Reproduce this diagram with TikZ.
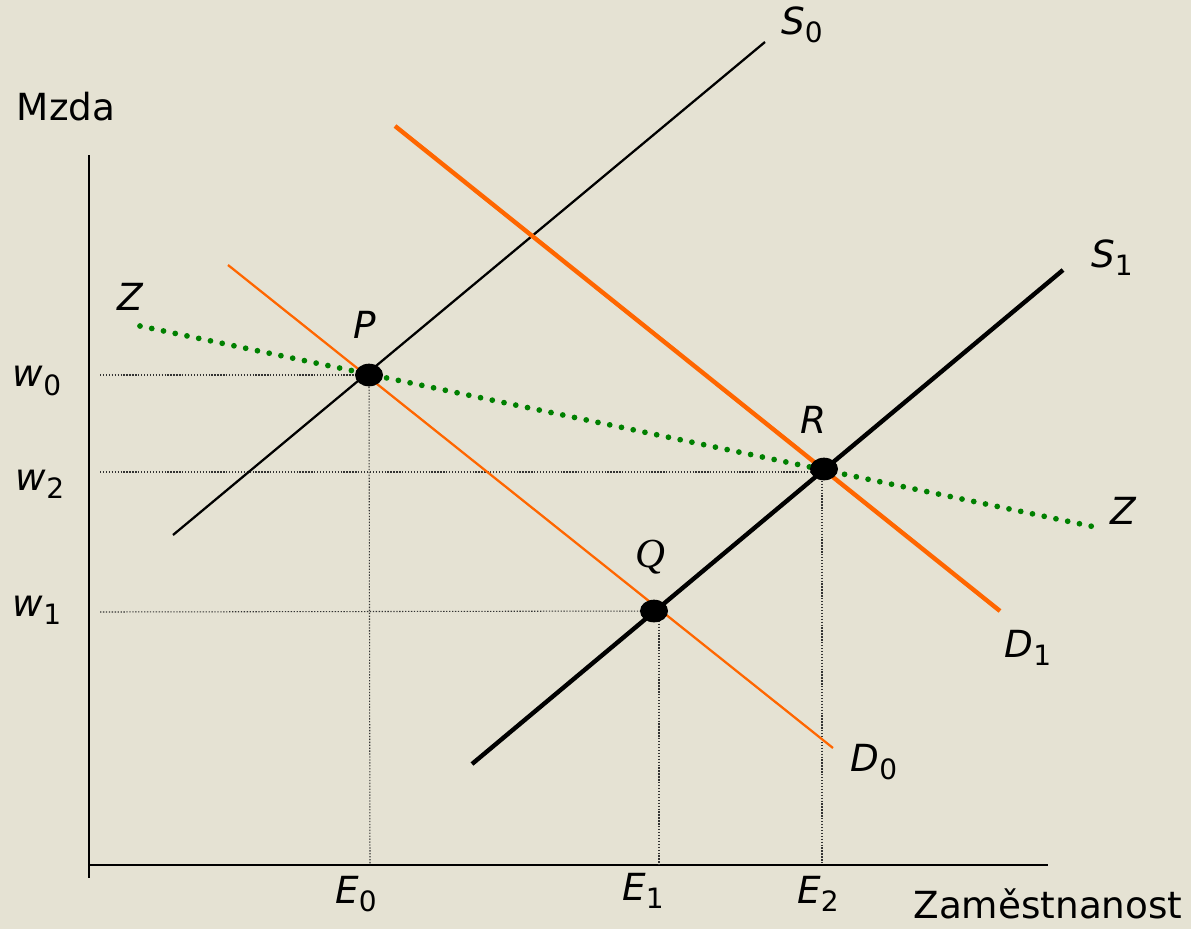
\documentclass[tikz,border=0pt]{standalone}
\usepackage{fontspec}
\setmainfont{DejaVu Sans}
\newfontfamily\qfont{Liberation Serif}
\usetikzlibrary{shapes.geometric}
\definecolor{bg}{RGB}{229,226,211}
\definecolor{orng}{RGB}{255,102,0}
\definecolor{grn}{RGB}{0,128,0}
\newcommand\lab[2]{\textit{#1}\raisebox{-0.4ex}{\fontsize{21}{21}\selectfont #2}}
\tikzset{
  lbl/.style={font=\fontsize{28}{30}\selectfont, inner sep=0pt},
  dotnode/.style={ellipse, fill=black, minimum width=21pt, minimum height=17pt, inner sep=0pt},
  guide/.style={line width=0.8pt, dash pattern=on 1pt off 1.2pt, black!80},
  axis/.style={line width=2pt},
  thinline/.style={line width=1.7pt},
  thickline/.style={line width=3.3pt},
  zline/.style={grn, line width=4.3pt, line cap=round, dash pattern=on 0pt off 9pt}
}
\begin{document}
\begin{tikzpicture}[x=0.75pt,y=-0.75pt]
\fill[bg] (0,0) rectangle (1191,929);
\useasboundingbox (0,0) rectangle (1191,929);
% axes
\coordinate (ytop) at (89,155);
\coordinate (ybot) at (89,878);
\coordinate (xl) at (89,865);
\coordinate (xr) at (1048,865);
\draw[axis] (ytop) -- (ybot);
\draw[axis] (xl) -- (xr);
% points
\coordinate (Pc) at (369,375);
\coordinate (Rc) at (824,469);
\coordinate (Qc) at (654,611);
% guides
\coordinate (g0) at (100,375);
\coordinate (g2) at (100,472);
\coordinate (g1) at (100,612);
\coordinate (e0) at (370,865);
\coordinate (e1) at (659,865);
\coordinate (e2) at (822,865);
\coordinate (r2) at (822,472);
\coordinate (q1) at (659,612);
\draw[guide] (g0) -- (Pc);
\draw[guide] (Pc) -- (e0);
\draw[guide] (g2) -- (r2);
\draw[guide] (r2) -- (e2);
\draw[guide] (g1) -- (Qc);
\draw[guide] (q1) -- (e1);
% curves
\coordinate (s0a) at (173,535);
\coordinate (s0b) at (765,42);
\coordinate (s1a) at (472,764);
\coordinate (s1b) at (1063,270);
\coordinate (d0a) at (228,265);
\coordinate (d0b) at (833,748);
\coordinate (d1a) at (395,126);
\coordinate (d1b) at (1000,611);
\coordinate (za) at (140,326);
\coordinate (zb) at (1095,527);
\draw[thinline] (s0a) -- (s0b);
\draw[orng, thinline] (d0a) -- (d0b);
\draw[orng, thickline] (d1a) -- (d1b);
\draw[thickline] (s1a) -- (s1b);
\draw[zline] (za) -- (zb);
% dots
\node[dotnode] (P) at (Pc) {};
\node[dotnode] (R) at (Rc) {};
\node[dotnode] (Q) at (Qc) {};
% labels
\node[lbl] (lS0) at (802,25) {\lab{S}{0}};
\node[lbl] (lS1) at (1112,258) {\lab{S}{1}};
\node[lbl] (lD1) at (1028,648) {\lab{D}{1}};
\node[lbl] (lD0) at (874,762) {\lab{D}{0}};
\node[lbl] (lZa) at (131,297) {\textit{Z}};
\node[lbl] (lZb) at (1124,511) {\textit{Z}};
\node[lbl] (lP) at (365,325) {\textit{P}};
\node[lbl] (lR) at (813,420) {\textit{R}};
\node[lbl] (lQ) at (650,557) {{\qfont\fontsize{31}{31}\selectfont\textit{Q}}};
\node[lbl] (lw0) at (37,381) {\lab{w}{0}};
\node[lbl] (lw2) at (40,484) {\lab{w}{2}};
\node[lbl] (lw1) at (37,610) {\lab{w}{1}};
\node[lbl] (lE0) at (356,894) {\lab{E}{0}};
\node[lbl] (lE1) at (643,891) {\lab{E}{1}};
\node[lbl] (lE2) at (818,894) {\lab{E}{2}};
\node[lbl] (lM) at (66,107) {Mzda};
\node[lbl] (lX) at (1048,904) {Zaměstnanost};
\end{tikzpicture}
\end{document}
